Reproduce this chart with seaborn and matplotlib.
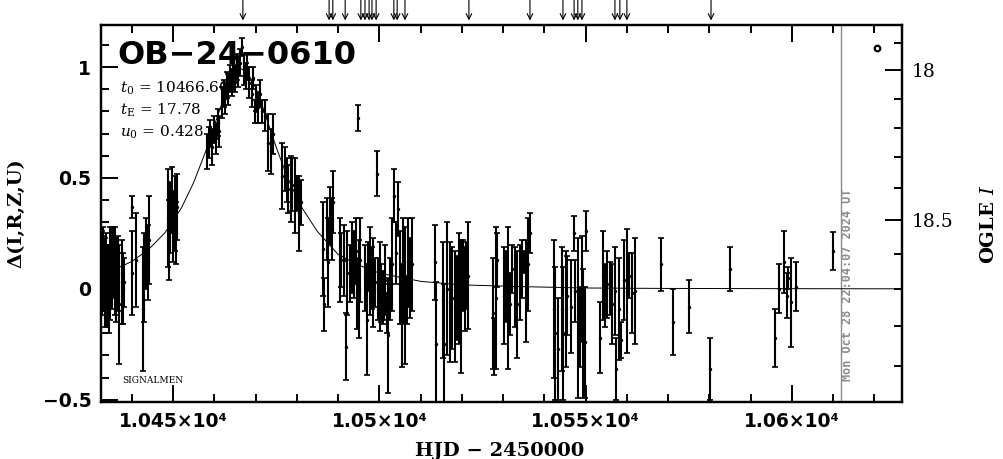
import numpy as np
import pandas as pd
import seaborn as sns
import matplotlib.pyplot as plt
from matplotlib.ticker import MultipleLocator, FixedLocator

# photometry: HJD-2450000, delta mag, error
hjd = [
    10432.7, 10432.9, 10433.1, 10433.5, 10433.8, 10434.0, 10434.4, 10434.7, 10435.2, 10435.5,
    10435.9, 10436.2, 10436.5, 10436.8, 10437.5, 10437.9, 10438.1,
    10439.9, 10440.0, 10441.0, 10442.8, 10443.0, 10443.4, 10443.8, 10444.1,
    10448.7, 10448.9, 10449.2, 10449.6, 10449.9, 10450.4, 10450.7, 10451.0,
    10458.2, 10458.6, 10459.0, 10459.4, 10459.9, 10460.3, 10460.8, 10461.2,
    10461.8, 10462.2, 10462.6, 10463.0, 10463.4, 10463.8, 10464.2, 10464.6, 10465.0, 10465.4,
    10465.8, 10466.3, 10466.8, 10467.2, 10467.6, 10468.0, 10468.5, 10469.0, 10469.4,
    10469.8, 10470.0, 10470.5, 10471.0, 10471.5,
    10472.3, 10473.0, 10473.6, 10474.2,
    10476.5, 10477.1, 10477.5, 10477.9, 10478.5, 10478.9, 10479.5, 10479.9, 10480.6, 10480.9,
    10486.4, 10486.6, 10487.2, 10487.6, 10488.0, 10488.4, 10488.8,
    10490.4, 10490.8, 10491.4, 10491.9, 10492.2, 10492.9, 10493.3, 10493.8, 10494.3, 10494.6,
    10494.9, 10495.1, 10495.4, 10496.5, 10496.9, 10497.3, 10497.7, 10498.1, 10498.5, 10498.9,
    10499.3, 10499.7, 10500.1, 10500.5, 10500.9, 10501.2, 10501.4, 10501.8, 10502.2, 10502.6,
    10503.0, 10503.5, 10504.0, 10504.6, 10505.0, 10505.4, 10505.8, 10506.2, 10506.6, 10507.0,
    10507.4, 10507.8,
    10513.4, 10513.7, 10515.5, 10515.6, 10516.5, 10517.1, 10517.7, 10518.3, 10518.7, 10519.4,
    10519.7, 10520.3, 10520.7, 10521.1, 10521.5,
    10527.5, 10527.8, 10528.3, 10528.6, 10530.2, 10530.7, 10531.2, 10531.6, 10532.2, 10532.9,
    10533.4, 10534.1, 10534.5, 10535.1, 10535.6, 10536.1, 10536.5,
    10542.3, 10542.6, 10543.4, 10544.2, 10544.4, 10545.2, 10545.5, 10546.4, 10547.2, 10547.5,
    10548.2, 10548.6, 10549.0, 10549.4, 10549.8, 10550.2,
    10553.5, 10554.3, 10554.7, 10555.3, 10555.8, 10556.3, 10557.1, 10557.4, 10558.2, 10558.5,
    10559.3, 10560.1, 10560.6, 10561.2, 10562.0,
    10568.3, 10571.2, 10575.1, 10580.1, 10585.1,
    10595.9, 10596.9, 10598.1, 10598.7, 10599.1, 10599.9, 10601.0,
    10610.0,
]
dmag = [
    0.07, 0.12, 0.07, 0.03, 0.10, 0.01, 0.00, 0.07, 0.09, 0.12,
    0.08, 0.04, 0.07, -0.07, 0.03, 0.00, 0.03,
    0.37, 0.07, 0.13, -0.09, 0.05, 0.16, 0.12, 0.22,
    0.32, 0.22, 0.32, 0.40, 0.28, 0.34, 0.25, 0.37,
    0.62, 0.66, 0.70, 0.64, 0.72, 0.68, 0.75, 0.71,
    0.84, 0.88, 0.86, 0.92, 0.90, 0.95, 0.93, 0.97, 0.95, 1.00,
    0.98, 1.02, 1.09, 0.99, 0.96, 1.00, 0.93, 0.88, 0.95,
    0.80, 0.86, 0.82, 0.88, 0.80,
    0.78, 0.66, 0.62, 0.70,
    0.51, 0.54, 0.49, 0.45, 0.45, 0.47, 0.42, 0.43, 0.34, 0.39,
    0.18, -0.07, 0.27, 0.12, 0.33, 0.27, 0.39,
    0.13, 0.13, 0.13, -0.26, 0.07, 0.07, 0.14, 0.11, 0.17, -0.02,
    0.77, 0.00, 0.13, 0.05, -0.14, 0.10, 0.08, 0.05, 0.03, 0.03,
    0.52, 0.00, 0.01, -0.02, -0.04, -0.06, 0.04, -0.11, -0.21, 0.00,
    0.11, 0.42, 0.16, 0.36, 0.05, -0.12, 0.08, -0.03, -0.05, 0.12,
    0.05, 0.11,
    0.12, -0.25, -0.05, -0.25, 0.00, -0.06, -0.04, -0.08, -0.04, 0.00,
    -0.08, 0.06, 0.00, 0.06, 0.06,
    -0.11, -0.26, -0.04, 0.13, -0.03, 0.01, -0.04, -0.07, 0.09, 0.01,
    -0.07, 0.03, 0.09, 0.12, -0.01, 0.11, 0.25,
    -0.09, -0.20, -0.27, -0.09, -0.20, -0.09, -0.03, -0.08, 0.25, -0.01,
    -0.13, -0.17, 0.00, -0.20, -0.24, 0.26,
    -0.22, 0.06, -0.03, 0.02, 0.00, -0.07, -0.01, -0.36, -0.09, -0.23,
    0.04, -0.01, 0.06, -0.02, -0.01,
    0.11, -0.15, -0.08, -0.36, 0.09,
    -0.22, 0.00, 0.12, -0.03, 0.05, -0.06, 0.01,
    0.17,
]
dmag_err = [
    0.19, 0.16, 0.17, 0.20, 0.15, 0.18, 0.20, 0.21, 0.18, 0.16,
    0.20, 0.19, 0.17, 0.27, 0.19, 0.16, 0.11,
    0.05, 0.19, 0.21, 0.28, 0.20, 0.16, 0.17, 0.20,
    0.22, 0.18, 0.16, 0.15, 0.16, 0.17, 0.14, 0.15,
    0.08, 0.07, 0.06, 0.08, 0.06, 0.07, 0.06, 0.07,
    0.07, 0.06, 0.07, 0.06, 0.07, 0.06, 0.06, 0.07, 0.06, 0.06,
    0.07, 0.06, 0.04, 0.07, 0.06, 0.06, 0.07, 0.06, 0.05,
    0.05, 0.06, 0.07, 0.06, 0.05,
    0.07, 0.13, 0.10, 0.09,
    0.15, 0.10, 0.10, 0.11, 0.15, 0.12, 0.17, 0.08, 0.17, 0.10,
    0.21, 0.12, 0.14, 0.20, 0.13, 0.14, 0.14,
    0.19, 0.12, 0.16, 0.15, 0.19, 0.13, 0.16, 0.15, 0.15, 0.16,
    0.06, 0.22, 0.19, 0.15, 0.25, 0.11, 0.20, 0.14, 0.20, 0.11,
    0.10, 0.14, 0.20, 0.13, 0.12, 0.08, 0.16, 0.09, 0.26, 0.14,
    0.21, 0.12, 0.14, 0.12, 0.21, 0.23, 0.24, 0.31, 0.11, 0.20,
    0.18, 0.21,
    0.17, 0.28, 0.26, 0.27, 0.30, 0.27, 0.23, 0.25, 0.19, 0.25,
    0.30, 0.16, 0.19, 0.15, 0.24,
    0.25, 0.13, 0.32, 0.12, 0.22, 0.16, 0.32, 0.14, 0.11, 0.18,
    0.24, 0.17, 0.13, 0.05, 0.23, 0.21, 0.09,
    0.31, 0.30, 0.23, 0.28, 0.30, 0.26, 0.18, 0.21, 0.08, 0.14,
    0.36, 0.18, 0.24, 0.29, 0.25, 0.09,
    0.16, 0.20, 0.14, 0.15, 0.12, 0.18, 0.20, 0.14, 0.23, 0.08,
    0.18, 0.28, 0.10, 0.18, 0.24,
    0.12, 0.15, 0.12, 0.14, 0.10,
    0.13, 0.11, 0.14, 0.10, 0.05, 0.20, 0.11,
    0.085,
]

# single open-circle point near the top right corner
extra_t = [10620.6]
extra_d = [1.086]

# model curve
model_t = [10432.5, 10436, 10440, 10444, 10448, 10452, 10455, 10458, 10461, 10463,
           10465, 10466.6, 10468, 10470, 10472, 10475, 10478, 10481, 10485, 10490,
           10495, 10500, 10510, 10520, 10535, 10550, 10570, 10600, 10627]
model_d = [0.067, 0.089, 0.124, 0.177, 0.253, 0.365, 0.481, 0.626, 0.793, 0.898,
           0.972, 0.992, 0.976, 0.907, 0.804, 0.637, 0.490, 0.372, 0.258, 0.155,
           0.107, 0.071, 0.034, 0.018, 0.010, 0.004, 0.002, 0.001, 0.0003]

# arrows along the top edge
arrow_t = [10466.9, 10487.8, 10488.7, 10491.7, 10495.5, 10496.5, 10497.5, 10498.2,
           10499.2, 10503.5, 10504.3, 10506.2, 10521.7, 10536.5, 10544.5, 10547.2,
           10548.1, 10549.1, 10557.1, 10558.3, 10560.0, 10580.4]

xtick_vals = [10450, 10500, 10550, 10600]
xtick_labels = ["1.045×10⁴", "1.05×10⁴", "1.055×10⁴", "1.06×10⁴"]
ytick_vals = [-0.5, 0, 0.5, 1]
ytick_labels = ["−0.5", "0", "0.5", "1"]
ogle_major = [18.0, 18.5]
ogle_labels = ["18", "18.5"]
ogle_minor = [17.9, 18.1, 18.2, 18.3, 18.4, 18.6, 18.7, 18.8, 18.9]

event_name = "OB−24−0610"
param_lines = [r"$t_{\rm 0}$ = 10466.607", r"$t_{\rm E}$ = 17.78", r"$u_{\rm 0}$ = 0.428"]
stamp = "Mon Oct 28 22:04:07 2024 UT"

# OGLE I scale tied to the delta-mag axis
fs_blend = 0.613
base_I = 18.70


def from_ogle(m):
    m = np.asarray(m, dtype=float)
    return 2.5 * np.log10(np.clip((10 ** (-0.4 * (m - base_I)) - 1) / fs_blend + 1, 1e-6, None))


sns.set_style("ticks")
plt.rcParams['font.family'] = ['DejaVu Sans']
plt.rcParams['mathtext.fontset'] = 'dejavuserif'
for key in ["text.color", "axes.labelcolor", "xtick.color", "ytick.color", "axes.edgecolor"]:
    plt.rcParams[key] = "black"

df = pd.DataFrame({"hjd": hjd, "dmag": dmag, "err": dmag_err})
model = pd.DataFrame({"hjd": model_t, "dmag": model_d})

fig = plt.figure(figsize=(10.04, 4.59), dpi=100)
ax = fig.add_axes([0.1006, 0.1242, 0.7978, 0.8214])

ax.errorbar(df["hjd"], df["dmag"], yerr=df["err"], fmt="none", ecolor="black",
            elinewidth=1.5, capsize=2, capthick=1.2, zorder=3)
sns.scatterplot(data=df, x="hjd", y="dmag", s=6, color="black", linewidth=0, ax=ax, zorder=4)
sns.lineplot(data=model, x="hjd", y="dmag", color="black", lw=0.7, ax=ax, zorder=2)
ax.plot(extra_t, extra_d, "o", ms=4, mfc="white", mec="black", mew=1.6)

ax.axvline(10612.0, color="#8c8c8c", lw=1.0, zorder=1)
ax.text(0.932, 0.31, stamp, transform=ax.transAxes, rotation=90, ha="center", va="center",
        color="#8c8c8c", fontsize=8.5, fontweight="bold", family="DejaVu Sans Mono")

ax.set_xlim(10432.5, 10626.7)
ax.set_ylim(-0.51, 1.19)

ax.xaxis.set_major_locator(FixedLocator(xtick_vals))
ax.set_xticklabels(xtick_labels)
ax.xaxis.set_minor_locator(MultipleLocator(10))
ax.yaxis.set_major_locator(FixedLocator(ytick_vals))
ax.set_yticklabels(ytick_labels)
ax.yaxis.set_minor_locator(MultipleLocator(0.1))
ax.tick_params(which="both", direction="in", top=True, right=False, width=1.4)
ax.tick_params(which="major", length=12, labelsize=13.5, pad=7)
ax.tick_params(which="minor", length=6)
for lab in ax.get_xticklabels() + ax.get_yticklabels():
    lab.set_fontweight("bold")
for sp in ax.spines.values():
    sp.set_linewidth(1.6)

# right-hand OGLE I axis: ticks placed through the magnitude mapping
tw = ax.twinx()
tw.set_ylim(ax.get_ylim())
tw.yaxis.set_major_locator(FixedLocator(from_ogle(ogle_major)))
tw.set_yticklabels(ogle_labels)
tw.yaxis.set_minor_locator(FixedLocator(from_ogle(ogle_minor)))
tw.yaxis.set_ticks_position("right")
tw.tick_params(axis="y", which="both", direction="in", right=True, left=False,
               width=1.4, color="black")
tw.tick_params(axis="y", which="major", length=12, labelsize=13.5, pad=7)
tw.tick_params(axis="y", which="minor", length=6)
for lab in tw.get_yticklabels():
    lab.set_family("DejaVu Serif")
for sp in tw.spines.values():
    sp.set_linewidth(1.6)
tw.set_ylabel("OGLE $I$", family="DejaVu Serif", fontweight="bold", fontsize=14)
tw.yaxis.set_label_coords(1.097, 0.47)

ax.set_xlabel("HJD − 2450000", family="DejaVu Serif", fontweight="bold", fontsize=14)
ax.xaxis.set_label_coords(0.498, -0.105)
ax.set_ylabel("Δ(I,R,Z,U)", family="DejaVu Serif", fontweight="bold", fontsize=14)
ax.yaxis.set_label_coords(-0.095, 0.5)

ax.text(0.021, 0.92, event_name, transform=ax.transAxes, fontsize=23, fontweight="bold",
        ha="left", va="center")
for i, line in enumerate(param_lines):
    ax.text(0.024, 0.833 - i * 0.059, line, transform=ax.transAxes, fontsize=11,
            family="DejaVu Serif", ha="left", va="center")
ax.text(0.026, 0.058, "SIGNALMEN", transform=ax.transAxes, fontsize=6.5,
        family="DejaVu Serif", ha="left", va="center")

for t in arrow_t:
    ax.annotate("", xy=(t, 1.012), xytext=(t, 1.066), xycoords=ax.get_xaxis_transform(),
                textcoords=ax.get_xaxis_transform(), annotation_clip=False,
                arrowprops=dict(arrowstyle="->", lw=0.8, color="black",
                                shrinkA=0, shrinkB=0, mutation_scale=10))

fig.savefig("out.png", dpi=100)
